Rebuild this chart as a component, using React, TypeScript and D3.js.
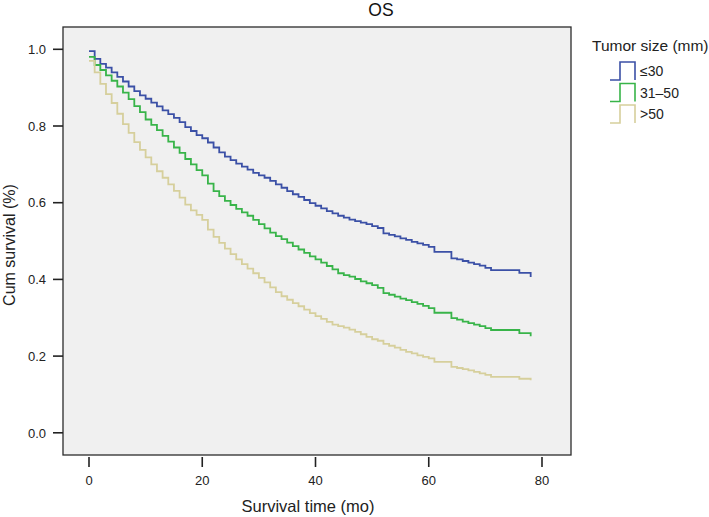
import React from "react";
import * as d3 from "d3";

const blueTimes = [0,1,2,3,4,5,6,7,8,9,10,11,12,13,14,15,16,17,18,19,20,21,22,23,24,25,26,27,28,29,30,31,32,33,34,35,36,37,38,39,40,41,42,43,44,45,46,47,48,49,50,51,52,53,54,55,56,57,58,59,60,61,64,65,66,67,68,69,70,71,76,78];
const blueSurv = [0.995,0.975,0.962,0.952,0.940,0.928,0.916,0.903,0.891,0.880,0.871,0.861,0.851,0.841,0.831,0.821,0.810,0.797,0.787,0.776,0.768,0.757,0.744,0.731,0.720,0.711,0.702,0.694,0.686,0.678,0.671,0.665,0.657,0.648,0.639,0.630,0.622,0.615,0.607,0.599,0.592,0.585,0.578,0.572,0.566,0.561,0.556,0.552,0.548,0.544,0.539,0.534,0.520,0.516,0.512,0.507,0.503,0.498,0.494,0.490,0.485,0.472,0.455,0.452,0.448,0.444,0.440,0.436,0.430,0.424,0.417,0.406];

const greenTimes = blueTimes;
const greenSurv = [0.980,0.959,0.946,0.932,0.918,0.903,0.887,0.870,0.852,0.836,0.817,0.803,0.789,0.774,0.759,0.744,0.730,0.714,0.700,0.685,0.671,0.650,0.630,0.617,0.605,0.594,0.584,0.575,0.566,0.555,0.544,0.533,0.522,0.513,0.505,0.496,0.487,0.478,0.469,0.460,0.452,0.444,0.435,0.426,0.416,0.411,0.407,0.401,0.395,0.390,0.385,0.378,0.364,0.360,0.355,0.350,0.346,0.341,0.336,0.331,0.325,0.313,0.299,0.295,0.290,0.286,0.282,0.278,0.273,0.268,0.260,0.252];

const tanTimes = blueTimes;
const tanSurv = [0.970,0.940,0.910,0.883,0.860,0.832,0.805,0.782,0.758,0.738,0.718,0.700,0.682,0.665,0.648,0.631,0.613,0.595,0.580,0.568,0.555,0.530,0.511,0.495,0.480,0.466,0.452,0.440,0.428,0.416,0.404,0.392,0.379,0.367,0.356,0.347,0.338,0.330,0.321,0.312,0.304,0.297,0.289,0.282,0.278,0.274,0.269,0.263,0.257,0.250,0.244,0.240,0.232,0.227,0.222,0.216,0.211,0.207,0.202,0.198,0.194,0.185,0.172,0.169,0.166,0.163,0.159,0.155,0.151,0.146,0.141,0.137];

const groupLabels = ["≤30", "31–50", ">50"];
const groupColors = ["#3b50a6", "#38b449", "#d6cf9c"];
const xTicks = [0, 20, 40, 60, 80];
const yTicks = [0, 0.2, 0.4, 0.6, 0.8, 1.0];

const FONT = "'Liberation Sans', Arial, sans-serif";

export default function App() {
  const left = 63, right = 571, top = 27, bottom = 455;
  const x = d3.scaleLinear().domain([0, 80]).range([89, 542]);
  const y = d3.scaleLinear().domain([0, 1]).range([432.8, 49.3]);
  const line = d3
    .line<[number, number]>()
    .x((d) => x(d[0]))
    .y((d) => y(d[1]))
    .curve(d3.curveStepAfter);

  const series = [
    { t: blueTimes, s: blueSurv },
    { t: greenTimes, s: greenSurv },
    { t: tanTimes, s: tanSurv },
  ];

  const legendX = 610;
  const legendY0 = 71;
  const legendDy = 21.5;

  return (
    <svg
      width={709}
      height={517}
      style={{ position: "absolute", left: 0, top: 0, background: "#ffffff" }}
      fontFamily={FONT}
    >
      <rect x={0} y={0} width={709} height={517} fill="#ffffff" />
      <rect x={left} y={top} width={right - left} height={bottom - top} fill="#f0f0f0" stroke="#2b2b2b" strokeWidth={1.3} />
      <text x={381} y={16} fontSize={17.5} textAnchor="middle" fill="#111">OS</text>

      {series.map((ser, i) => (
        <path
          key={i}
          d={line(ser.t.map((t, k) => [t, ser.s[k]] as [number, number])) || ""}
          fill="none"
          stroke={groupColors[i]}
          strokeWidth={1.8}
        />
      ))}

      {yTicks.map((v) => (
        <g key={v}>
          <line x1={53} x2={left} y1={y(v)} y2={y(v)} stroke="#222" strokeWidth={1.6} />
          <text x={46} y={y(v) + 4.7} fontSize={13} textAnchor="end" fill="#222">
            {v.toFixed(1)}
          </text>
        </g>
      ))}
      {xTicks.map((v) => (
        <g key={v}>
          <line x1={x(v)} x2={x(v)} y1={bottom + 2} y2={bottom + 12} stroke="#222" strokeWidth={1.6} />
          <text x={x(v)} y={485} fontSize={13} textAnchor="middle" fill="#222">
            {v}
          </text>
        </g>
      ))}

      <text x={308} y={512} fontSize={16.5} textAnchor="middle" fill="#222">
        Survival time (mo)
      </text>
      <text
        transform={`translate(15, 245) rotate(-90)`}
        fontSize={16}
        textAnchor="middle"
        fill="#222"
      >
        Cum survival (%)
      </text>

      <text x={592} y={51} fontSize={15.5} fill="#222">Tumor size (mm)</text>
      {groupLabels.map((lab, i) => {
        const cy = legendY0 + i * legendDy;
        const yb = cy + 9;
        const yt = cy - 9;
        return (
          <g key={lab}>
            <path
              d={`M${legendX},${yb} H${legendX + 10} V${yt} H${legendX + 25} V${yb}`}
              fill="none"
              stroke={groupColors[i]}
              strokeWidth={1.6}
            />
            <text x={legendX + 30} y={cy + 5} fontSize={14} fill="#222">{lab}</text>
          </g>
        );
      })}
    </svg>
  );
}
